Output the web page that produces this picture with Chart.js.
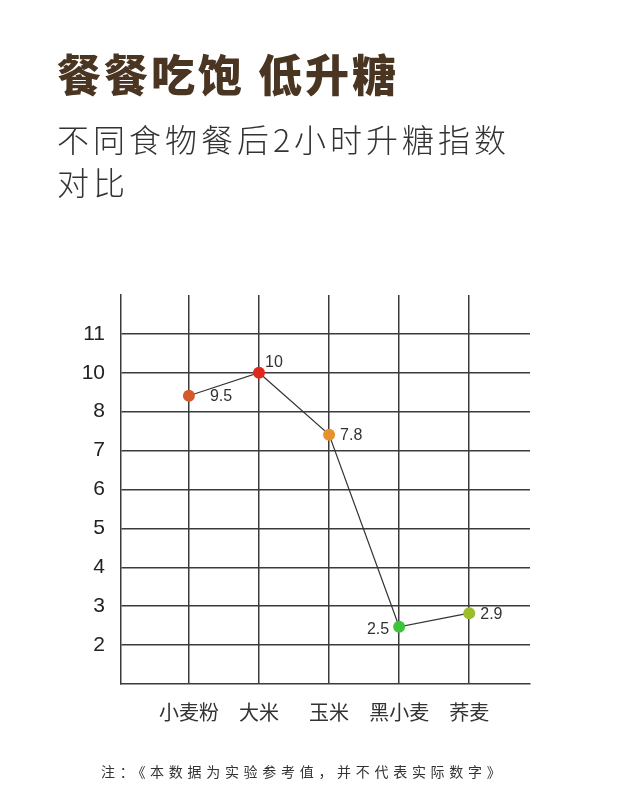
<!DOCTYPE html>
<html>
<head>
<meta charset="utf-8">
<script src="https://cdn.jsdelivr.net/npm/chart.js@4"></script>
<style>
  body { margin: 0; background: #fff; }
  #wrap { position: relative; width: 640px; height: 812px; overflow: hidden; }
  canvas { position: absolute; left: 0; top: 0; }
  .txt { position: absolute; font-family: "Noto Sans CJK SC", sans-serif; white-space: nowrap; pointer-events: none; }
  #title { left: 57px; top: 51px; font-size: 44px; line-height: 44px; font-weight: 900; color: #4a3522; letter-spacing: 3px; }
  #sub { left: 57px; top: 117px; font-size: 32px; line-height: 43px; font-weight: 300; color: #333; letter-spacing: 4px; }
  #note { left: 101px; top: 764px; font-size: 14px; line-height: 14px; color: #333; letter-spacing: 4.7px; }
</style>
</head>
<body>
<div id="wrap">
  <canvas id="chart" width="640" height="812"></canvas>
  <div class="txt" id="title">餐餐吃饱 低升糖</div>
  <div class="txt" id="sub">不同食物餐后2小时升糖指数<br>对比</div>
  <div class="txt" id="note">注：《本数据为实验参考值，并不代表实际数字》</div>
</div>
<script>
// ---- data ----
const categories = ["小麦粉", "大米", "玉米", "黑小麦", "荞麦"];
const values = [9.5, 10, 7.8, 2.5, 2.9];            // printed value labels
const plotLevels = [8.41, 9.0, 7.41, 2.47, 2.82];    // heights as drawn on the grid rows
const yTickLabels = ["2", "3", "4", "5", "6", "7", "8", "10", "11"];
const pointColors = ["#d35a2a", "#e0271e", "#e8912c", "#3cc43a", "#9cbd2c"];

// where each value label sits relative to its point
const labelPlacement = [
    { dx: 21, dy: 1, align: "left" },
    { dx: 6, dy: -10, align: "left" },
    { dx: 11, dy: 1, align: "left" },
    { dx: -10, dy: 3, align: "right" },
    { dx: 11, dy: 1, align: "left" }
];

const gridColor = "#3b3b3b";

// draw the value next to each point
const valueLabels = {
    id: "valueLabels",
    afterDatasetsDraw(chart) {
        const ctx = chart.ctx;
        const meta = chart.getDatasetMeta(0);
        ctx.save();
        ctx.font = "16px 'Liberation Sans', Arial, sans-serif";
        ctx.fillStyle = "#333";
        ctx.textBaseline = "middle";
        meta.data.forEach((pt, i) => {
            const p = labelPlacement[i];
            ctx.textAlign = p.align;
            ctx.fillText(String(values[i]), pt.x + p.dx, pt.y + p.dy);
        });
        ctx.restore();
    }
};

new Chart(document.getElementById("chart"), {
    type: "scatter",
    data: {
        datasets: [{
            data: plotLevels.map((y, i) => ({ x: i, y: y })),
            showLine: true,
            borderColor: "#333",
            borderWidth: 1.2,
            pointRadius: 6,
            pointBorderWidth: 0,
            pointBackgroundColor: pointColors,
            pointBorderColor: pointColors
        }]
    },
    options: {
        responsive: false,
        animation: false,
        devicePixelRatio: 1,
        layout: { padding: { top: 295, right: 110, left: 0, bottom: 0 } },
        plugins: {
            legend: { display: false },
            tooltip: { enabled: false }
        },
        scales: {
            x: {
                type: "linear",
                min: -0.969,
                max: 4.867,
                afterBuildTicks: (scale) => {
                    scale.ticks = categories.map((_, i) => ({ value: i }));
                },
                afterFit: (scale) => { scale.height = 128; },
                grid: { color: gridColor, lineWidth: 1.5, drawTicks: false },
                border: { color: gridColor, width: 1.5 },
                ticks: {
                    padding: 16,
                    color: "#333",
                    font: { family: "'Noto Sans CJK SC', sans-serif", size: 20 },
                    callback: (v, i) => categories[i]
                }
            },
            y: {
                type: "linear",
                min: 1,
                max: 11,
                afterBuildTicks: (scale) => {
                    scale.ticks = yTickLabels.map((_, i) => ({ value: i + 2 }));
                },
                afterFit: (scale) => { scale.width = 121; },
                grid: { color: gridColor, lineWidth: 1.5, drawTicks: false },
                border: { color: gridColor, width: 1.5 },
                ticks: {
                    padding: 16,
                    color: "#222",
                    font: { family: "'Liberation Sans', Arial, sans-serif", size: 21 },
                    callback: (v, i) => yTickLabels[i]
                }
            }
        }
    },
    plugins: [valueLabels]
});
</script>
</body>
</html>
